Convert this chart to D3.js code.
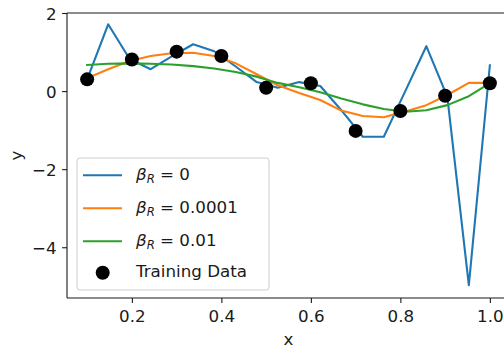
<!DOCTYPE html>
<html>
<head>
<meta charset="utf-8">
<script src="https://cdn.jsdelivr.net/npm/d3@7"></script>
<style>
  body { margin: 0; background: #fff; }
  svg { display: block; }
  text { font-family: "DejaVu Sans", sans-serif; fill: #1a1a1a; }
</style>
</head>
<body>
<svg id="chart" width="504" height="349"></svg>
<script>
// Evaluation grid for the fitted models
const gridX = [0.100, 0.147, 0.195, 0.242, 0.289, 0.337, 0.384, 0.432, 0.479, 0.526,
               0.574, 0.621, 0.668, 0.716, 0.763, 0.811, 0.858, 0.905, 0.953, 1.000];

// Training points
const trainX = [0.1, 0.2, 0.3, 0.4, 0.5, 0.6, 0.7, 0.8, 0.9, 1.0];
const trainY = [0.30, 0.81, 1.01, 0.90, 0.085, 0.20, -1.02, -0.51, -0.12, 0.20];

// Fitted predictions for each regularisation strength
const fitBeta0 = [0.30, 1.71, 0.82, 0.56, 0.89, 1.20, 1.02, 0.63, 0.23, 0.085,
                  0.23, 0.13, -0.49, -1.17, -1.17, 0.00, 1.15, -0.15, -4.97, 0.66];
const fitBeta1e4 = [0.33, 0.56, 0.77, 0.90, 0.97, 0.98, 0.90, 0.71, 0.43, 0.15,
                    -0.05, -0.23, -0.50, -0.64, -0.67, -0.52, -0.36, -0.10, 0.21, 0.21];
const fitBeta1e2 = [0.67, 0.70, 0.71, 0.70, 0.68, 0.64, 0.58, 0.49, 0.37, 0.21,
                    0.10, -0.03, -0.19, -0.34, -0.46, -0.53, -0.49, -0.36, -0.13, 0.20];

const betaLabels = ["0", "0.0001", "0.01"];
const seriesColors = ["#1f77b4", "#ff7f0e", "#2ca02c"];
const xTicks = [0.2, 0.4, 0.6, 0.8, 1.0];
const yTicks = [-4, -2, 0, 2];

const series = [fitBeta0, fitBeta1e4, fitBeta1e2].map((ys, i) => ({
  label: betaLabels[i],
  color: seriesColors[i],
  points: gridX.map((x, j) => [x, ys[j]])
}));

const svg = d3.select("#chart");
const FONT = 16.7;
const plot = { left: 67, right: 510, top: 13, bottom: 298 };

const x = d3.scaleLinear().domain([0.055, 1.045]).range([plot.left, plot.right]);
const y = d3.scaleLinear().domain([-5.3, 2.0]).range([plot.bottom, plot.top]);

// Axes
const xAxis = svg.append("g")
  .attr("transform", `translate(0,${plot.bottom})`)
  .call(d3.axisBottom(x).tickValues(xTicks).tickFormat(d3.format(".1f"))
        .tickSize(4.9).tickPadding(7.5));
const yAxis = svg.append("g")
  .attr("transform", `translate(${plot.left},0)`)
  .call(d3.axisLeft(y).tickValues(yTicks).tickFormat(d => d < 0 ? "\u2212" + Math.abs(d) : d)
        .tickSize(4.9).tickPadding(5.4));
[xAxis, yAxis].forEach(g => {
  g.select(".domain").remove();
  g.selectAll(".tick line").attr("stroke", "#1a1a1a").attr("stroke-width", 1.1);
  g.selectAll(".tick text").attr("font-size", FONT).attr("font-family", "DejaVu Sans").attr("fill", "#1a1a1a");
});
yAxis.selectAll(".tick text").attr("dy", "0.37em");

// Series lines
const line = d3.line().x(d => x(d[0])).y(d => y(d[1]));
svg.append("g").selectAll("path")
  .data(series).join("path")
  .attr("d", d => line(d.points))
  .attr("fill", "none")
  .attr("stroke", d => d.color)
  .attr("stroke-width", 2.1)
  .attr("stroke-linejoin", "round")
  .attr("stroke-linecap", "square");

// Training data
svg.append("g").selectAll("circle")
  .data(trainX.map((xv, i) => [xv, trainY[i]])).join("circle")
  .attr("cx", d => x(d[0]))
  .attr("cy", d => y(d[1]))
  .attr("r", 7)
  .attr("fill", "#000");

// Spines (left, bottom, top)
const spines = svg.append("g").attr("stroke", "#1a1a1a").attr("stroke-width", 1.1).attr("fill", "none");
spines.append("line").attr("x1", plot.left).attr("x2", plot.left).attr("y1", plot.top).attr("y2", plot.bottom);
spines.append("line").attr("x1", plot.left).attr("x2", plot.right).attr("y1", plot.bottom).attr("y2", plot.bottom);
spines.append("line").attr("x1", plot.left).attr("x2", plot.right).attr("y1", plot.top).attr("y2", plot.top);
spines.append("line").attr("x1", plot.right).attr("x2", plot.right).attr("y1", plot.top).attr("y2", plot.bottom);

// Axis labels
svg.append("text")
  .attr("x", (plot.left + plot.right) / 2).attr("y", 345)
  .attr("text-anchor", "middle").attr("font-size", FONT).text("x");
svg.append("text")
  .attr("transform", `translate(22,${(plot.top + plot.bottom) / 2}) rotate(-90)`)
  .attr("text-anchor", "middle").attr("font-size", FONT).text("y");

// Legend
const legend = svg.append("g");
legend.append("rect")
  .attr("x", 77).attr("y", 158).attr("width", 192).attr("height", 132).attr("rx", 3)
  .attr("fill", "#fff").attr("fill-opacity", 0.8)
  .attr("stroke", "#cccccc").attr("stroke-width", 1);

const rowY = i => 175.3 + i * 33;
series.forEach((s, i) => {
  legend.append("line")
    .attr("x1", 83).attr("x2", 122).attr("y1", rowY(i)).attr("y2", rowY(i))
    .attr("stroke", s.color).attr("stroke-width", 2.1);
  const t = legend.append("text").attr("x", 136).attr("y", rowY(i) + 5).attr("font-size", FONT);
  t.append("tspan").attr("font-style", "italic").text("\u03B2");
  t.append("tspan").attr("font-style", "italic").attr("font-size", FONT * 0.7).attr("dy", 3).text("R");
  t.append("tspan").attr("dy", -3).text(" = " + s.label);
});
legend.append("circle").attr("cx", 102.7).attr("cy", rowY(3) - 1.5).attr("r", 7).attr("fill", "#000");
legend.append("text").attr("x", 136).attr("y", rowY(3) + 3).attr("font-size", FONT).text("Training Data");
</script>
</body>
</html>
